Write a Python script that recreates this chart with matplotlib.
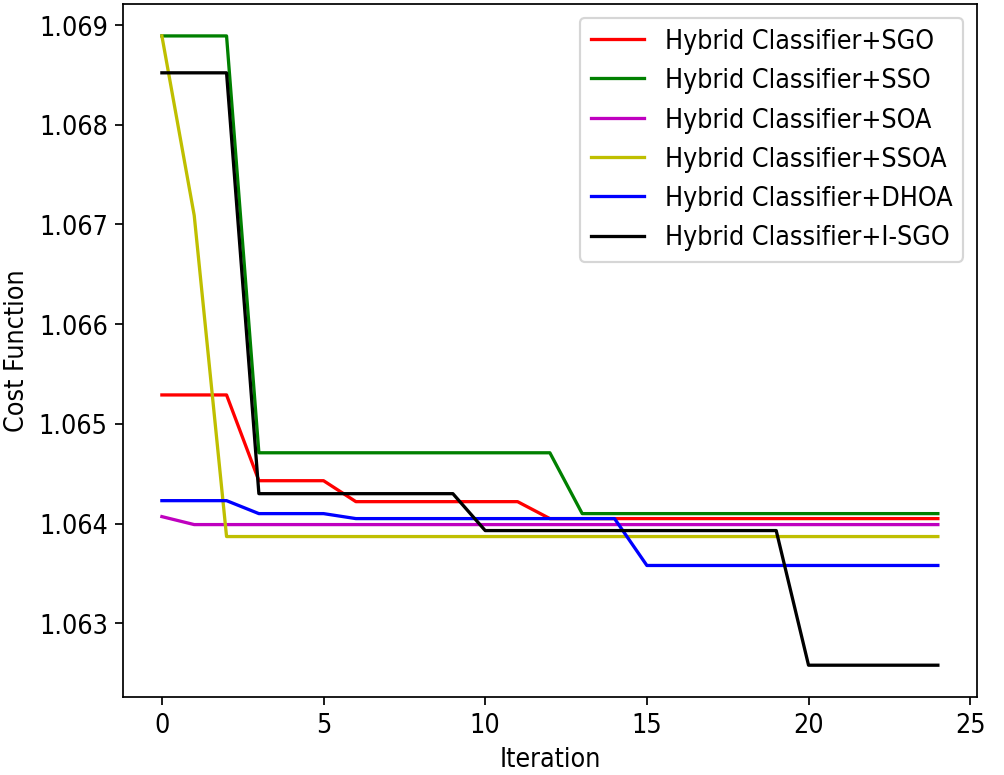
import numpy as np
import matplotlib.pyplot as plt

plt.rcParams['font.family'] = ['DejaVu Sans']
plt.rcParams['font.stretch'] = 'condensed'
plt.rcParams['font.size'] = 12.2

iterations = np.arange(25)

sgo = [1.06529]*3 + [1.06443]*3 + [1.06422]*6 + [1.06405]*13
sso = [1.06889]*3 + [1.06471]*10 + [1.06410]*12
soa = [1.06407] + [1.06399]*24
ssoa = [1.06889, 1.06709] + [1.06387]*23
dhoa = [1.06423]*3 + [1.06410]*3 + [1.06405]*9 + [1.06358]*10
isgo = [1.06852]*3 + [1.06430]*7 + [1.06393]*10 + [1.06258]*5

series = [
    (sgo, 'r', 'Hybrid Classifier+SGO'),
    (sso, 'g', 'Hybrid Classifier+SSO'),
    (soa, 'm', 'Hybrid Classifier+SOA'),
    (ssoa, 'y', 'Hybrid Classifier+SSOA'),
    (dhoa, 'b', 'Hybrid Classifier+DHOA'),
    (isgo, 'k', 'Hybrid Classifier+I-SGO'),
]

fig, ax = plt.subplots(figsize=(6.4, 4.94), dpi=157)
for vals, c, lab in series:
    ax.plot(iterations, vals, color=c, label=lab, lw=1.5)

ax.set_xlabel('Iteration')
ax.set_ylabel('Cost Function')
ax.legend(loc='upper right')
fig.subplots_adjust(left=0.1225, right=0.972, top=0.9935, bottom=0.101)
fig.savefig('out.png')
